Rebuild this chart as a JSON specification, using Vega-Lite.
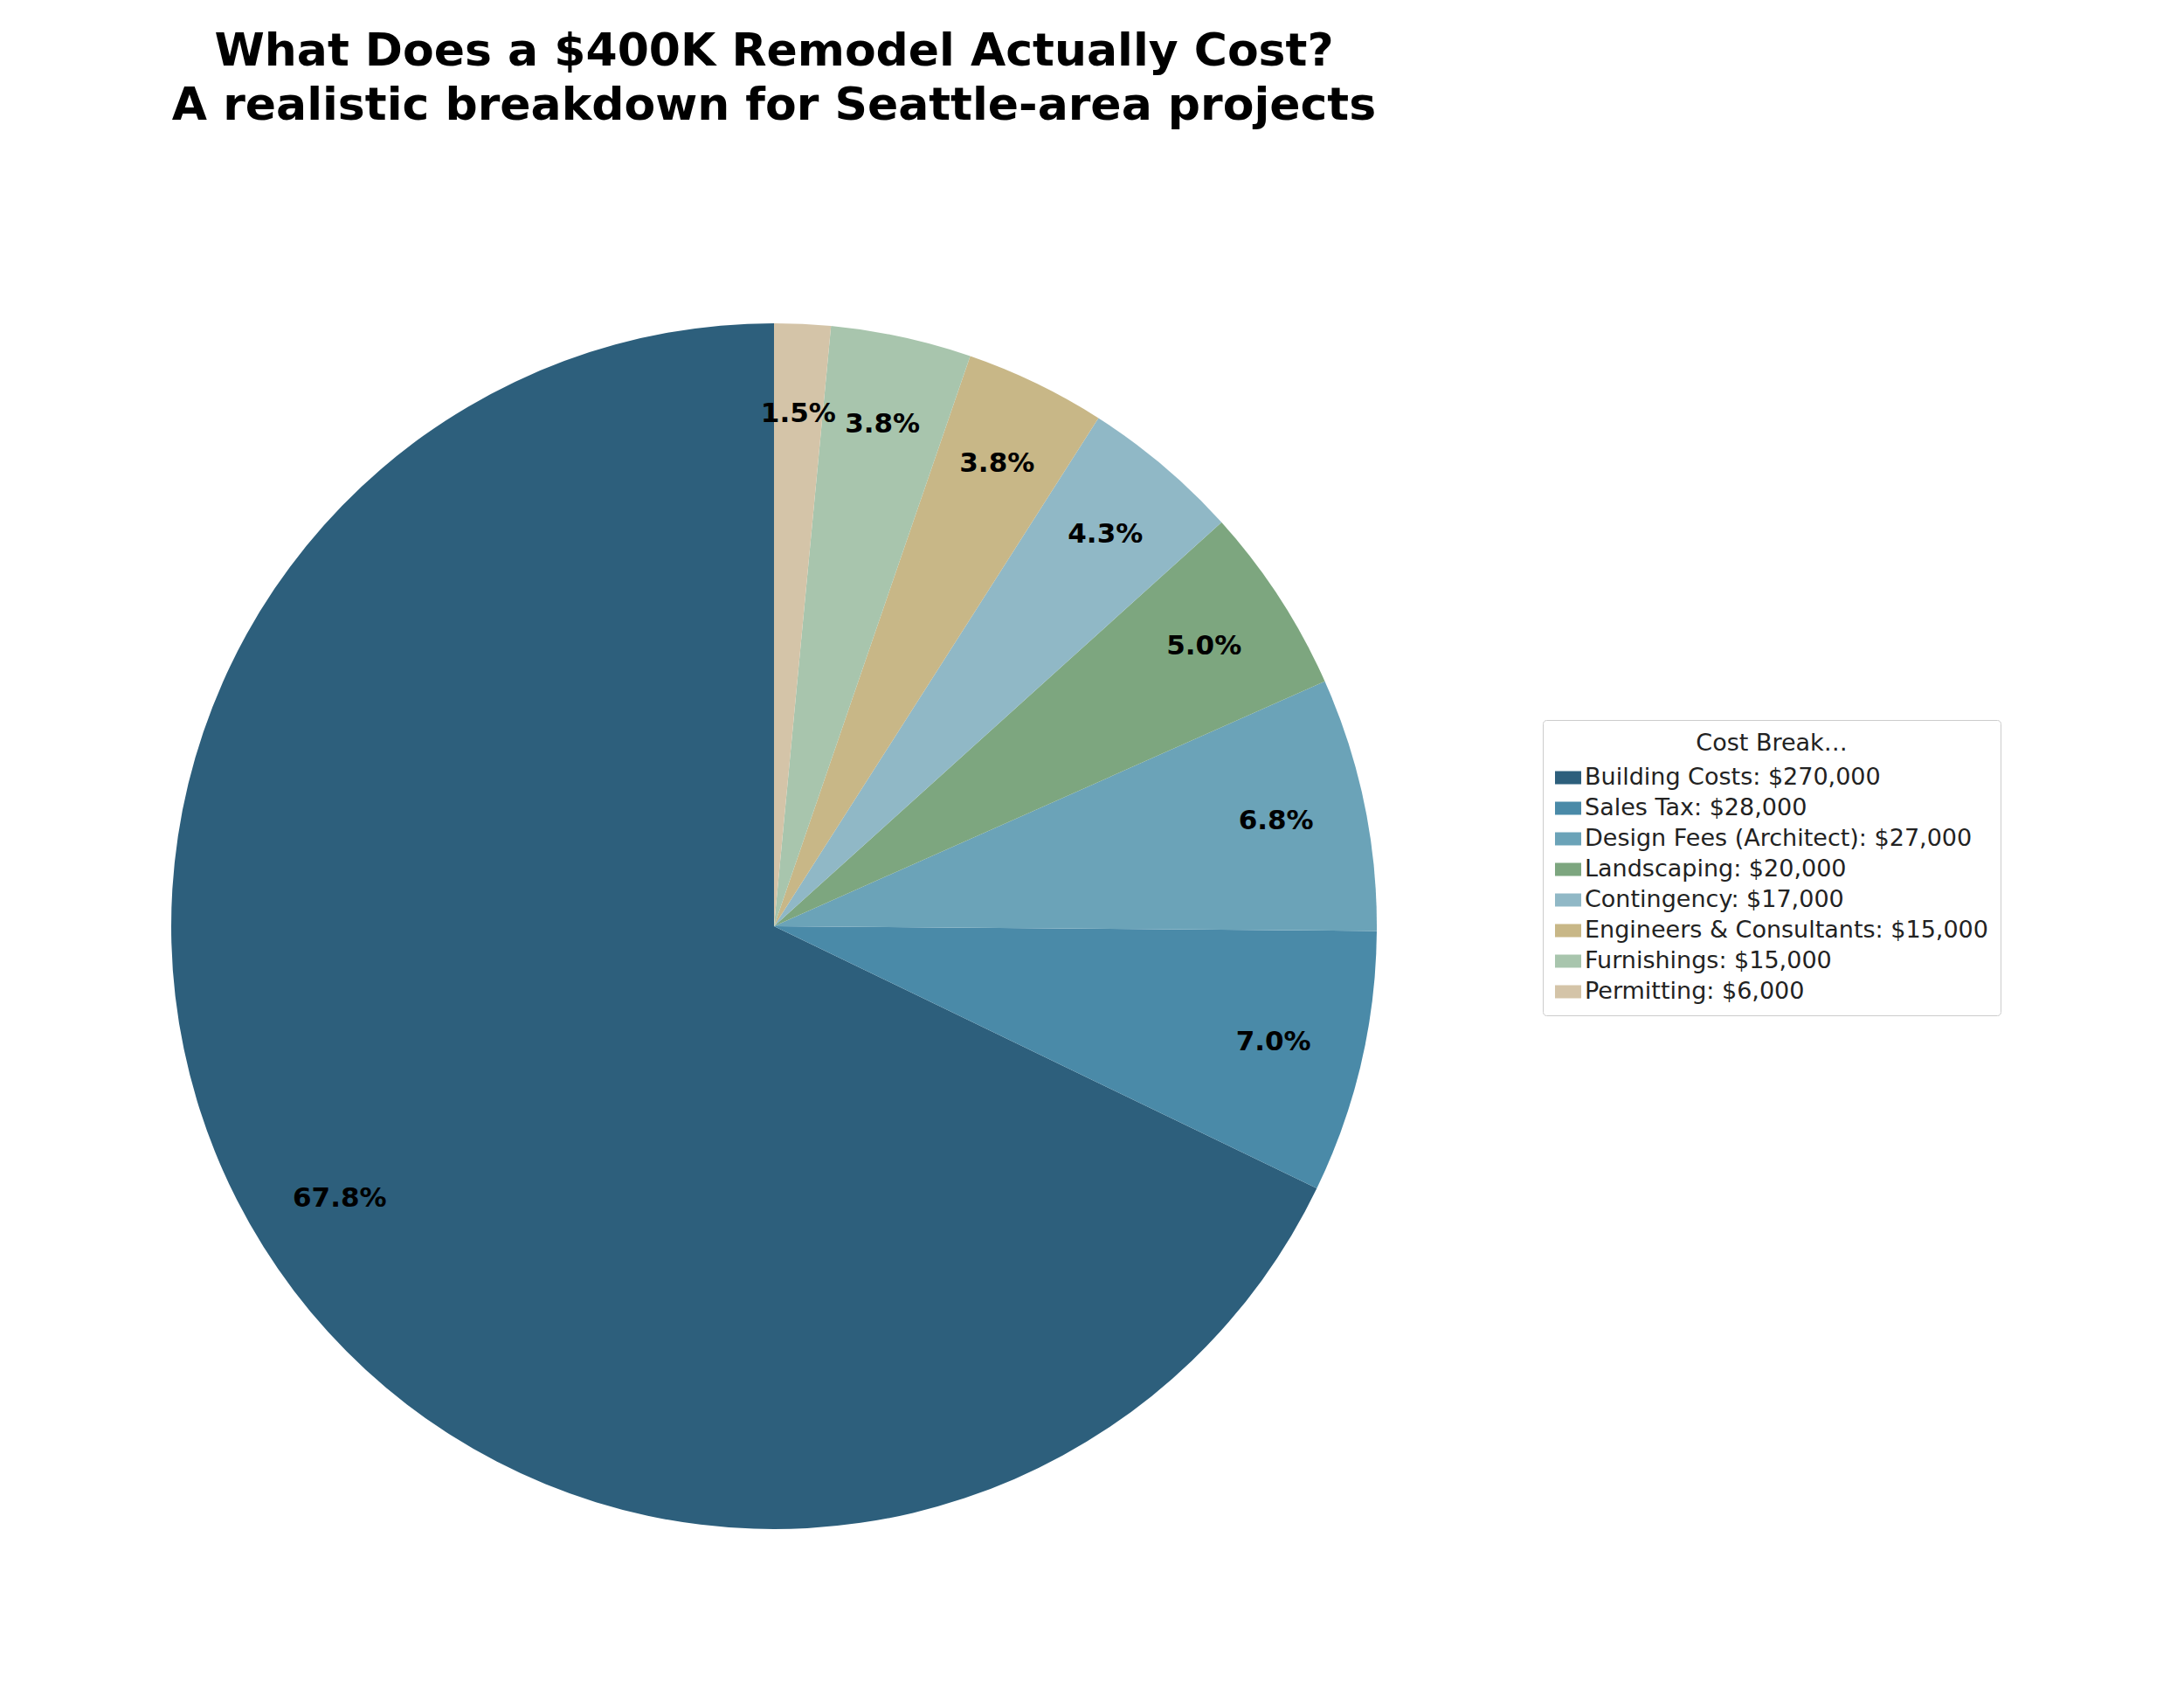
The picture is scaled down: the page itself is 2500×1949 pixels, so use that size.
{
"$schema":"https://vega.github.io/schema/vega-lite/v6.json",
"width":1772,"height":1600,
"autosize":{"type":"none"},
"padding":{"top":260,"left":0,"right":728,"bottom":89},
"background":"white",
"title":{"text":["What Does a $400K Remodel Actually Cost?","A realistic breakdown for Seattle-area projects"],"font":"DejaVu Sans","fontSize":52,"fontWeight":"bold","color":"black","anchor":"middle","frame":"group","offset":112,"lineHeight":62},
"data":{"values":[
{"cat":"Building Costs","label":"Building Costs: $270,000","value":270000,"pct":"67.8%","ord":8},
{"cat":"Sales Tax","label":"Sales Tax: $28,000","value":28000,"pct":"7.0%","ord":7},
{"cat":"Design Fees (Architect)","label":"Design Fees (Architect): $27,000","value":27000,"pct":"6.8%","ord":6},
{"cat":"Landscaping","label":"Landscaping: $20,000","value":20000,"pct":"5.0%","ord":5},
{"cat":"Contingency","label":"Contingency: $17,000","value":17000,"pct":"4.3%","ord":4},
{"cat":"Engineers & Consultants","label":"Engineers & Consultants: $15,000","value":15000,"pct":"3.8%","ord":3},
{"cat":"Furnishings","label":"Furnishings: $15,000","value":15000,"pct":"3.8%","ord":2},
{"cat":"Permitting","label":"Permitting: $6,000","value":6000,"pct":"1.5%","ord":1}
]},
"encoding":{
"theta":{"field":"value","type":"quantitative","stack":true},
"order":{"field":"ord","type":"quantitative","sort":"ascending"}
},
"layer":[
{"mark":{"type":"arc","outerRadius":690},
"encoding":{"color":{"field":"label","type":"nominal","sort":{"field":"ord","order":"descending"},
"scale":{"range":["#2d5f7c","#4a8aa8","#6ba3b8","#7da67f","#90b8c6","#c8b787","#a8c5ad","#d4c4a8"]},
"legend":{"title":"Cost Breakdown","orient":"none","legendX":1766,"legendY":564,
"titleFont":"DejaVu Sans","titleFontSize":27,"titleFontWeight":"normal","titleColor":"#222","titleAnchor":"middle","titlePadding":10,
"labelFont":"DejaVu Sans","labelFontSize":27,"labelColor":"#222","labelLimit":800,
"symbolType":"M-1,-0.5H1V0.5H-1Z","symbolSize":900,"symbolStrokeWidth":0,"rowPadding":7,
"strokeColor":"#cccccc","fillColor":"white","padding":14,"cornerRadius":4}}}},
{"mark":{"type":"text","radius":587,"font":"DejaVu Sans","fontSize":31,"fontWeight":"bold","color":"black"},
"encoding":{"text":{"field":"pct"}}}
]
}
